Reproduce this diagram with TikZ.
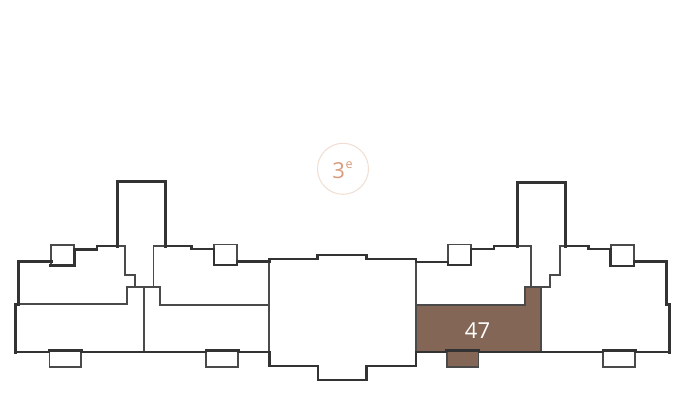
\documentclass[tikz,border=0pt]{standalone}
\usepackage{fontspec}
\setmainfont{Open Sans}
\definecolor{wall}{HTML}{333333}
\definecolor{thinwall}{HTML}{4A4A4A}
\definecolor{unit}{HTML}{836656}
\definecolor{accent}{HTML}{D99B7C}
\definecolor{ringc}{HTML}{F0DED2}
\tikzset{
  outer/.style={draw=wall,line width=3pt,line cap=rect,line join=miter},
  mid/.style={draw=wall,line width=2.6pt,line cap=rect},
  inner/.style={draw=thinwall,line width=1.7pt,line join=miter},
  win/.style={draw=thinwall,line width=1.7pt,fill=white},
  unitfill/.style={fill=unit,draw=thinwall,line width=1.6pt}
}
\begin{document}
\begin{tikzpicture}[x=1pt,y=-1pt]
\useasboundingbox[fill=white] (0,0) rectangle (683,417);
% highlighted unit
\path[unitfill] (416,304.7) -- (525,304.7) -- (525,287) -- (541,287) -- (541,352) -- (416,352) -- cycle;
\path[unitfill] (446.7,350) rectangle (478.3,367);
% inner partitions
\draw[inner] (18.7,304.3) -- (127,304.3) -- (127,287) -- (160,287) -- (160,304.7) -- (269.3,304.7);
\draw[inner] (143.7,287) -- (143.7,352);
\draw[inner] (117.5,246) -- (125,246) -- (125,275.3) -- (135,275.3) -- (135,287);
\draw[inner] (165,246) -- (153.5,246) -- (153.5,287);
\draw[inner] (517.7,246) -- (531,246) -- (531,287) -- (550,287) -- (550,275.3) -- (560,275.3) -- (560,246) -- (565,246);
\draw[inner] (269.3,259) -- (269.3,366);
\draw[inner] (416,259) -- (416,366);
% upper windows
\draw[win] (51,244.7) rectangle (74,265.5);
\draw[win] (214,244.5) rectangle (236.7,265);
\draw[win] (448.3,244.5) rectangle (470.7,265);
\draw[win] (610.7,245) rectangle (634,266);
% lower windows
\draw[win] (49.5,350) rectangle (81,367);
\draw[win] (206,350) rectangle (238.3,367);
\draw[win] (603.3,350) rectangle (635,367);
% outer walls, top
\draw[outer] (15.7,304) -- (18.7,304) -- (18.7,261.7) -- (51,261.7);
\draw[mid] (50,265.5) -- (74.5,265.5) -- (74.5,249.3) -- (97,249.3) -- (97,246) -- (117.5,246);
\draw[outer] (117.5,246) -- (117.5,181.7) -- (165,181.7) -- (165,246);
\draw[mid] (165,246) -- (191.5,246) -- (191.5,249) -- (214,249) -- (214,265) -- (237,265) -- (237,261.7) -- (269.3,261.7) -- (269.3,259) -- (317.7,259) -- (317.7,255) -- (366.7,255) -- (366.7,259) -- (416,259) -- (416,262) -- (448,262) -- (448,265) -- (471,265) -- (471,249) -- (494,249) -- (494,246) -- (517.7,246);
\draw[outer] (517.7,246) -- (517.7,182.3) -- (565,182.3) -- (565,246);
\draw[mid] (565,246) -- (588.3,246) -- (588.3,249) -- (610.7,249) -- (610.7,266) -- (634,266) -- (634,261.7);
\draw[outer] (634,261.7) -- (666,261.7) -- (666,304) -- (669,304) -- (669,352);
% bottom walls
\draw[outer] (15.7,304) -- (15.7,352);
\draw[mid] (15.7,352) -- (49,352);
\draw[mid] (81.5,352) -- (206,352);
\draw[mid] (238.5,352) -- (269.3,352) -- (269.3,366) -- (318,366) -- (318,380) -- (366.7,380) -- (366.7,366) -- (416,366) -- (416,352) -- (446,352);
\draw[mid] (479,352) -- (603,352);
\draw[mid] (635.5,352) -- (669,352);
\draw[outer,line cap=butt] (48,350) -- (83,350);
\draw[outer,line cap=butt] (205,350) -- (240,350);
\draw[outer,line cap=butt] (445,350) -- (480,350);
\draw[outer,line cap=butt] (602,350) -- (637,350);
% labels
\node[text=white,font=\fontsize{22}{22}\selectfont,inner sep=0pt] (unitlabel) at (477.5,331) {47};
\node[draw=ringc,line width=1pt,circle,minimum size=51pt,inner sep=0pt] (floor) at (343,168.8) {};
\node[text=accent,font=\fontsize{22}{22}\selectfont,inner sep=0pt,anchor=base] (floort) at (342.5,178.5) {3\kern0.5pt\raisebox{10pt}{\fontsize{12.5}{12.5}\selectfont e}};
\end{tikzpicture}
\end{document}
